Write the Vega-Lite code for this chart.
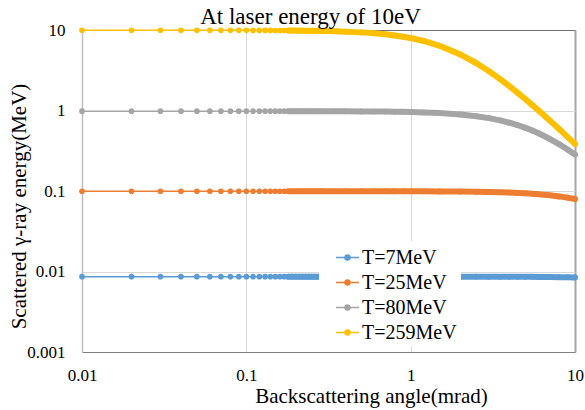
{
  "$schema": "https://vega.github.io/schema/vega-lite/v6.json",
  "width": 493,
  "height": 322,
  "autosize": {"type": "none"},
  "padding": {"left": 82, "top": 30, "right": 10, "bottom": 58},
  "background": "white",
  "config": {"view": {"stroke": null}, "font": "Liberation Serif"},
  "title": {"text": "At laser energy of 10eV", "fontSize": 23, "fontWeight": "normal", "color": "black", "font": "Liberation Serif", "baseline": "alphabetic", "offset": 4, "dx": -18, "dy": 30, "anchor": "middle", "frame": "group"},
  "data": {"values": [
    {"x":0.01,"s":"T=7MeV","E":0.00863},{"x":0.02,"s":"T=7MeV","E":0.00863},{"x":0.03,"s":"T=7MeV","E":0.00863},{"x":0.04,"s":"T=7MeV","E":0.00863},{"x":0.05,"s":"T=7MeV","E":0.00863},{"x":0.06,"s":"T=7MeV","E":0.00863},{"x":0.07,"s":"T=7MeV","E":0.00863},{"x":0.08,"s":"T=7MeV","E":0.00863},{"x":0.09,"s":"T=7MeV","E":0.00863},{"x":0.1,"s":"T=7MeV","E":0.00863},
    {"x":0.11,"s":"T=7MeV","E":0.00863},{"x":0.12,"s":"T=7MeV","E":0.00863},{"x":0.13,"s":"T=7MeV","E":0.00863},{"x":0.14,"s":"T=7MeV","E":0.00863},{"x":0.15,"s":"T=7MeV","E":0.00863},{"x":0.16,"s":"T=7MeV","E":0.00863},{"x":0.17,"s":"T=7MeV","E":0.00863},{"x":0.18,"s":"T=7MeV","E":0.00863},{"x":0.19,"s":"T=7MeV","E":0.00863},{"x":0.2,"s":"T=7MeV","E":0.00863},
    {"x":0.21,"s":"T=7MeV","E":0.00863},{"x":0.22,"s":"T=7MeV","E":0.00863},{"x":0.23,"s":"T=7MeV","E":0.00863},{"x":0.24,"s":"T=7MeV","E":0.00863},{"x":0.25,"s":"T=7MeV","E":0.00863},{"x":0.26,"s":"T=7MeV","E":0.00863},{"x":0.27,"s":"T=7MeV","E":0.00863},{"x":0.28,"s":"T=7MeV","E":0.00863},{"x":0.29,"s":"T=7MeV","E":0.00863},{"x":0.3,"s":"T=7MeV","E":0.00863},
    {"x":0.35,"s":"T=7MeV","E":0.00863},{"x":0.4,"s":"T=7MeV","E":0.00863},{"x":0.5,"s":"T=7MeV","E":0.00863},{"x":0.6,"s":"T=7MeV","E":0.00863},{"x":0.7,"s":"T=7MeV","E":0.00863},{"x":0.8,"s":"T=7MeV","E":0.00863},{"x":0.9,"s":"T=7MeV","E":0.00863},{"x":1,"s":"T=7MeV","E":0.00863},{"x":1.2,"s":"T=7MeV","E":0.00863},{"x":1.5,"s":"T=7MeV","E":0.008628},
    {"x":2,"s":"T=7MeV","E":0.008625},{"x":2.5,"s":"T=7MeV","E":0.00862},{"x":3,"s":"T=7MeV","E":0.008615},{"x":3.5,"s":"T=7MeV","E":0.008609},{"x":4,"s":"T=7MeV","E":0.008602},{"x":4.5,"s":"T=7MeV","E":0.008594},{"x":5,"s":"T=7MeV","E":0.008585},{"x":5.5,"s":"T=7MeV","E":0.008576},{"x":6,"s":"T=7MeV","E":0.008565},{"x":7,"s":"T=7MeV","E":0.008541},{"x":8,"s":"T=7MeV","E":0.008513},{"x":9,"s":"T=7MeV","E":0.008482},{"x":10,"s":"T=7MeV","E":0.008449},

    {"x":0.01,"s":"T=25MeV","E":0.0993},{"x":0.02,"s":"T=25MeV","E":0.0993},{"x":0.03,"s":"T=25MeV","E":0.0993},{"x":0.04,"s":"T=25MeV","E":0.0993},{"x":0.05,"s":"T=25MeV","E":0.0993},{"x":0.06,"s":"T=25MeV","E":0.0993},{"x":0.07,"s":"T=25MeV","E":0.0993},{"x":0.08,"s":"T=25MeV","E":0.0993},{"x":0.09,"s":"T=25MeV","E":0.0993},{"x":0.1,"s":"T=25MeV","E":0.0993},
    {"x":0.11,"s":"T=25MeV","E":0.0993},{"x":0.12,"s":"T=25MeV","E":0.0993},{"x":0.13,"s":"T=25MeV","E":0.0993},{"x":0.14,"s":"T=25MeV","E":0.0993},{"x":0.15,"s":"T=25MeV","E":0.0993},{"x":0.16,"s":"T=25MeV","E":0.0993},{"x":0.17,"s":"T=25MeV","E":0.0993},{"x":0.18,"s":"T=25MeV","E":0.0993},{"x":0.19,"s":"T=25MeV","E":0.0993},{"x":0.2,"s":"T=25MeV","E":0.0993},
    {"x":0.21,"s":"T=25MeV","E":0.0993},{"x":0.22,"s":"T=25MeV","E":0.0993},{"x":0.23,"s":"T=25MeV","E":0.0993},{"x":0.24,"s":"T=25MeV","E":0.0993},{"x":0.25,"s":"T=25MeV","E":0.0993},{"x":0.26,"s":"T=25MeV","E":0.0993},{"x":0.27,"s":"T=25MeV","E":0.0993},{"x":0.28,"s":"T=25MeV","E":0.0993},{"x":0.29,"s":"T=25MeV","E":0.0993},{"x":0.3,"s":"T=25MeV","E":0.0993},
    {"x":0.35,"s":"T=25MeV","E":0.0993},{"x":0.4,"s":"T=25MeV","E":0.0993},{"x":0.5,"s":"T=25MeV","E":0.09925},{"x":0.6,"s":"T=25MeV","E":0.09922},{"x":0.7,"s":"T=25MeV","E":0.09919},{"x":0.8,"s":"T=25MeV","E":0.09915},{"x":0.9,"s":"T=25MeV","E":0.09911},{"x":1,"s":"T=25MeV","E":0.09906},{"x":1.2,"s":"T=25MeV","E":0.09895},{"x":1.5,"s":"T=25MeV","E":0.09875},
    {"x":2,"s":"T=25MeV","E":0.09833},{"x":2.5,"s":"T=25MeV","E":0.09779},{"x":3,"s":"T=25MeV","E":0.09714},{"x":3.5,"s":"T=25MeV","E":0.09638},{"x":4,"s":"T=25MeV","E":0.09551},{"x":4.5,"s":"T=25MeV","E":0.09455},{"x":5,"s":"T=25MeV","E":0.0935},{"x":5.5,"s":"T=25MeV","E":0.09237},{"x":6,"s":"T=25MeV","E":0.09116},{"x":7,"s":"T=25MeV","E":0.08854},{"x":8,"s":"T=25MeV","E":0.08569},{"x":9,"s":"T=25MeV","E":0.08268},{"x":10,"s":"T=25MeV","E":0.07956},

    {"x":0.01,"s":"T=80MeV","E":0.9808},{"x":0.02,"s":"T=80MeV","E":0.9808},{"x":0.03,"s":"T=80MeV","E":0.9808},{"x":0.04,"s":"T=80MeV","E":0.9808},{"x":0.05,"s":"T=80MeV","E":0.9808},{"x":0.06,"s":"T=80MeV","E":0.9808},{"x":0.07,"s":"T=80MeV","E":0.9807},{"x":0.08,"s":"T=80MeV","E":0.9807},{"x":0.09,"s":"T=80MeV","E":0.9807},{"x":0.1,"s":"T=80MeV","E":0.9806},
    {"x":0.11,"s":"T=80MeV","E":0.9806},{"x":0.12,"s":"T=80MeV","E":0.9805},{"x":0.13,"s":"T=80MeV","E":0.9805},{"x":0.14,"s":"T=80MeV","E":0.9804},{"x":0.15,"s":"T=80MeV","E":0.9803},{"x":0.16,"s":"T=80MeV","E":0.9803},{"x":0.17,"s":"T=80MeV","E":0.9802},{"x":0.18,"s":"T=80MeV","E":0.9801},{"x":0.19,"s":"T=80MeV","E":0.98},{"x":0.2,"s":"T=80MeV","E":0.9799},
    {"x":0.21,"s":"T=80MeV","E":0.9798},{"x":0.22,"s":"T=80MeV","E":0.9797},{"x":0.23,"s":"T=80MeV","E":0.9796},{"x":0.24,"s":"T=80MeV","E":0.9795},{"x":0.25,"s":"T=80MeV","E":0.9794},{"x":0.26,"s":"T=80MeV","E":0.9793},{"x":0.27,"s":"T=80MeV","E":0.9791},{"x":0.28,"s":"T=80MeV","E":0.979},{"x":0.29,"s":"T=80MeV","E":0.9789},{"x":0.3,"s":"T=80MeV","E":0.9787},
    {"x":0.35,"s":"T=80MeV","E":0.9779},{"x":0.4,"s":"T=80MeV","E":0.977},{"x":0.5,"s":"T=80MeV","E":0.9749},{"x":0.6,"s":"T=80MeV","E":0.9723},{"x":0.7,"s":"T=80MeV","E":0.9692},{"x":0.8,"s":"T=80MeV","E":0.9657},{"x":0.9,"s":"T=80MeV","E":0.9618},{"x":1,"s":"T=80MeV","E":0.9574},{"x":1.2,"s":"T=80MeV","E":0.9474},{"x":1.5,"s":"T=80MeV","E":0.9296},
    {"x":2,"s":"T=80MeV","E":0.8933},{"x":2.5,"s":"T=80MeV","E":0.8505},{"x":3,"s":"T=80MeV","E":0.8035},{"x":3.5,"s":"T=80MeV","E":0.7543},{"x":4,"s":"T=80MeV","E":0.7045},{"x":4.5,"s":"T=80MeV","E":0.6554},{"x":5,"s":"T=80MeV","E":0.6081},{"x":5.5,"s":"T=80MeV","E":0.5631},{"x":6,"s":"T=80MeV","E":0.521},{"x":7,"s":"T=80MeV","E":0.4455},{"x":8,"s":"T=80MeV","E":0.3818},{"x":9,"s":"T=80MeV","E":0.3285},{"x":10,"s":"T=80MeV","E":0.2841},

    {"x":0.01,"s":"T=259MeV","E":9.9218},{"x":0.02,"s":"T=259MeV","E":9.9211},{"x":0.03,"s":"T=259MeV","E":9.9198},{"x":0.04,"s":"T=259MeV","E":9.9181},{"x":0.05,"s":"T=259MeV","E":9.9159},{"x":0.06,"s":"T=259MeV","E":9.9132},{"x":0.07,"s":"T=259MeV","E":9.91},{"x":0.08,"s":"T=259MeV","E":9.9063},{"x":0.09,"s":"T=259MeV","E":9.9021},{"x":0.1,"s":"T=259MeV","E":9.8974},
    {"x":0.11,"s":"T=259MeV","E":9.8923},{"x":0.12,"s":"T=259MeV","E":9.8866},{"x":0.13,"s":"T=259MeV","E":9.8805},{"x":0.14,"s":"T=259MeV","E":9.874},{"x":0.15,"s":"T=259MeV","E":9.8669},{"x":0.16,"s":"T=259MeV","E":9.8594},{"x":0.17,"s":"T=259MeV","E":9.8514},{"x":0.18,"s":"T=259MeV","E":9.8429},{"x":0.19,"s":"T=259MeV","E":9.834},{"x":0.2,"s":"T=259MeV","E":9.8245},
    {"x":0.21,"s":"T=259MeV","E":9.8147},{"x":0.22,"s":"T=259MeV","E":9.8043},{"x":0.23,"s":"T=259MeV","E":9.7935},{"x":0.24,"s":"T=259MeV","E":9.7823},{"x":0.25,"s":"T=259MeV","E":9.7705},{"x":0.26,"s":"T=259MeV","E":9.7584},{"x":0.27,"s":"T=259MeV","E":9.7458},{"x":0.28,"s":"T=259MeV","E":9.7328},{"x":0.29,"s":"T=259MeV","E":9.7193},{"x":0.3,"s":"T=259MeV","E":9.7053},
    {"x":0.35,"s":"T=259MeV","E":9.6294},{"x":0.4,"s":"T=259MeV","E":9.5432},{"x":0.5,"s":"T=259MeV","E":9.3426},{"x":0.6,"s":"T=259MeV","E":9.1086},{"x":0.7,"s":"T=259MeV","E":8.8467},{"x":0.8,"s":"T=259MeV","E":8.5627},{"x":0.9,"s":"T=259MeV","E":8.262},{"x":1,"s":"T=259MeV","E":7.95},{"x":1.2,"s":"T=259MeV","E":7.3107},{"x":1.5,"s":"T=259MeV","E":6.3679},
    {"x":2,"s":"T=259MeV","E":4.9804},{"x":2.5,"s":"T=259MeV","E":3.8905},{"x":3,"s":"T=259MeV","E":3.0695},{"x":3.5,"s":"T=259MeV","E":2.4568},{"x":4,"s":"T=259MeV","E":1.9969},{"x":4.5,"s":"T=259MeV","E":1.6473},{"x":5,"s":"T=259MeV","E":1.3778},{"x":5.5,"s":"T=259MeV","E":1.1668},{"x":6,"s":"T=259MeV","E":0.99922},{"x":7,"s":"T=259MeV","E":0.75427},{"x":8,"s":"T=259MeV","E":0.58796},{"x":9,"s":"T=259MeV","E":0.47042},{"x":10,"s":"T=259MeV","E":0.3845}
  ]},
  "encoding": {
    "x": {"field": "x", "type": "quantitative",
      "scale": {"type": "log", "domain": [0.01, 10], "nice": false},
      "axis": {"values": [0.01, 0.1, 1, 10], "format": ".3~f", "title": "Backscattering angle(mrad)",
        "titleFontSize": 21, "titleFontWeight": "normal", "titleColor": "black", "titleFont": "Liberation Serif",
        "titleX": 289, "titleY": 50, "titleBaseline": "alphabetic", "titleAnchor": null, "titleAlign": "center",
        "labelFontSize": 17, "labelColor": "black", "labelFont": "Liberation Serif", "labelPadding": 15,
        "ticks": false, "tickSize": 0, "domainColor": "#7f7f7f", "domainWidth": 1.2,
        "labelFlush": false, "labelOverlap": false,
        "grid": true, "gridColor": {"condition": {"test": "datum.value == 10", "value": "#a6a6a6"}, "value": "#d9d9d9"},
        "gridWidth": {"condition": {"test": "datum.value == 10", "value": 2}, "value": 1}}},
    "y": {"field": "E", "type": "quantitative",
      "scale": {"type": "log", "domain": [0.001, 10], "nice": false},
      "axis": {"values": [0.001, 0.01, 0.1, 1, 10], "format": ".3~f", "title": "Scattered γ-ray energy(MeV)",
        "titleFontSize": 21, "titleFontWeight": "normal", "titleColor": "black", "titleFont": "Liberation Serif",
        "titleX": -57, "titleY": 176, "titleAngle": -90, "titleBaseline": "alphabetic", "titleAlign": "center",
        "labelFontSize": 17, "labelColor": "black", "labelFont": "Liberation Serif", "labelPadding": 17,
        "ticks": false, "tickSize": 0, "domainColor": "#bfbfbf", "domainWidth": 1.5,
        "labelFlush": false, "labelOverlap": false,
        "grid": true, "gridColor": {"condition": {"test": "datum.value == 10", "value": "#707070"}, "value": "#d9d9d9"},
        "gridWidth": {"condition": {"test": "datum.value == 10", "value": 1.2}, "value": 1}}},
    "color": {"field": "s", "type": "nominal",
      "scale": {"domain": ["T=7MeV", "T=25MeV", "T=80MeV", "T=259MeV"], "range": ["#5B9BD5", "#ED7D31", "#A5A5A5", "#FFC000"]},
      "legend": {"title": null, "orient": "none", "legendX": 237, "legendY": 211, "fillColor": "white", "padding": 4,
        "symbolOffset": 12, "symbolType": "M-1,0L1,0M-0.22,0A0.22,0.22,0,1,0,0.22,0A0.22,0.22,0,1,0,-0.22,0Z",
        "symbolSize": 529, "symbolStrokeWidth": 1.5, "labelOffset": 2,
        "labelFontSize": 20, "labelFont": "Liberation Serif", "labelColor": "black", "rowPadding": 2,
        "encode": {"symbols": {"update": {"fill": {"scale": "color", "field": "value"}, "stroke": {"scale": "color", "field": "value"}, "opacity": {"value": 1}, "fillOpacity": {"value": 1}, "strokeOpacity": {"value": 1}}}}}}
  },
  "layer": [
    {"mark": {"type": "line", "strokeWidth": 1.5}},
    {"transform": [{"filter": "datum.x >= 0.18"}], "mark": {"type": "line", "strokeWidth": 6, "strokeCap": "round", "strokeJoin": "round"}},
    {"mark": {"type": "point", "filled": true, "size": 32, "opacity": 1}}
  ]
}
